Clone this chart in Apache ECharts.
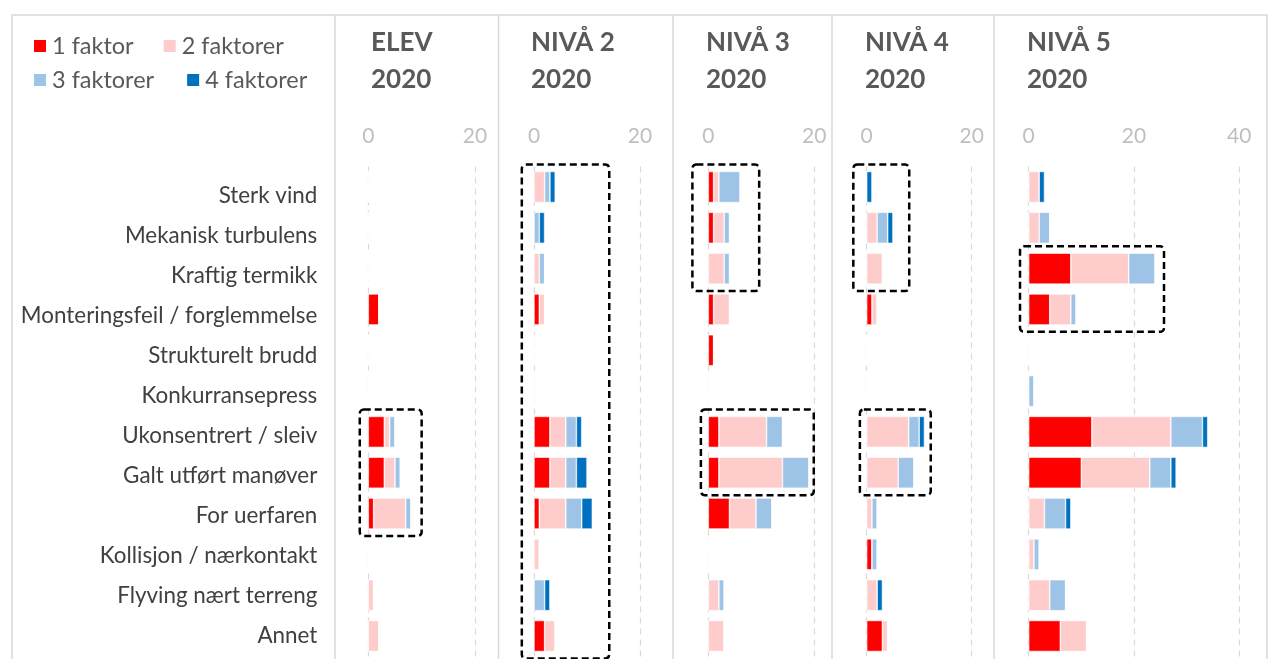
<!DOCTYPE html>
<html>
<head>
<meta charset="utf-8">
<script src="https://cdn.jsdelivr.net/npm/echarts@6/dist/echarts.min.js"></script>
<style>html,body{margin:0;padding:0;background:#fff;}#c{width:1276px;height:659px;}</style>
</head>
<body>
<div id="c"></div>
<script>
const categories = ['Sterk vind','Mekanisk turbulens','Kraftig termikk','Monteringsfeil / forglemmelse','Strukturelt brudd','Konkurransepress','Ukonsentrert / sleiv','Galt utført manøver','For uerfaren','Kollisjon / nærkontakt','Flyving nært terreng','Annet'];
const seriesNames = ['1 faktor','2 faktorer','3 faktorer','4 faktorer'];
const panelTitles = ['ELEV\n2020','NIVÅ 2\n2020','NIVÅ 3\n2020','NIVÅ 4\n2020','NIVÅ 5\n2020'];
const axisMax = [20,20,20,20,40];
const tickInterval = 20;

const elev1 = [0,0,0,2,0,0,3,3,1,0,0,0];
const elev2 = [0,0,0,0,0,0,1,2,6,0,1,2];
const elev3 = [0,0,0,0,0,0,1,1,1,0,0,0];
const elev4 = [0,0,0,0,0,0,0,0,0,0,0,0];

const niva2_1 = [0,0,0,1,0,0,3,3,1,0,0,2];
const niva2_2 = [2,0,1,1,0,0,3,3,5,1,0,2];
const niva2_3 = [1,1,1,0,0,0,2,2,3,0,2,0];
const niva2_4 = [1,1,0,0,0,0,1,2,2,0,1,0];

const niva3_1 = [1,1,0,1,1,0,2,2,4,0,0,0];
const niva3_2 = [1,2,3,3,0,0,9,12,5,0,2,3];
const niva3_3 = [4,1,1,0,0,0,3,5,3,0,1,0];
const niva3_4 = [0,0,0,0,0,0,0,0,0,0,0,0];

const niva4_1 = [0,0,0,1,0,0,0,0,0,1,0,3];
const niva4_2 = [0,2,3,1,0,0,8,6,1,0,2,1];
const niva4_3 = [0,2,0,0,0,0,2,3,1,1,0,0];
const niva4_4 = [1,1,0,0,0,0,1,0,0,0,1,0];

const niva5_1 = [0,0,8,4,0,0,12,10,0,0,0,6];
const niva5_2 = [2,2,11,4,0,0,15,13,3,1,4,5];
const niva5_3 = [0,2,5,1,0,1,6,4,4,1,3,0];
const niva5_4 = [1,0,0,0,0,0,1,1,1,0,0,0];

// highlight boxes: panel, first category, last category, value extent
const boxPanel = [0,1,2,2,3,3,4];
const boxFrom = ['Ukonsentrert / sleiv','Sterk vind','Sterk vind','Ukonsentrert / sleiv','Sterk vind','Ukonsentrert / sleiv','Kraftig termikk'];
const boxTo = ['For uerfaren','Annet','Kraftig termikk','Galt utført manøver','Kraftig termikk','Galt utført manøver','Monteringsfeil / forglemmelse'];
const boxXMin = [-1.6,-2.3,-3.0,-1.4,-2.55,-1.3,-1.65];
const boxXMax = [10.0,14.2,9.6,19.9,8.1,12.2,25.7];

const panels = [
  [elev1,elev2,elev3,elev4],
  [niva2_1,niva2_2,niva2_3,niva2_4],
  [niva3_1,niva3_2,niva3_3,niva3_4],
  [niva4_1,niva4_2,niva4_3,niva4_4],
  [niva5_1,niva5_2,niva5_3,niva5_4]
];

const colors = ['#FF0000','#FFCCCC','#9DC3E6','#0070C0'];
const FONT = 'Lato';
const gridLeft = [368.3,534,708.3,866.7,1028.7];
const gridWidth = [106.7,106,106,105,210.6];
const titleLeft = [371,531,706,865,1027];
const gridTop = 166.6, gridHeight = 489.8;
const separators = [335,498.5,673,832,994];

const chart = echarts.init(document.getElementById('c'), null, {renderer:'canvas'});

const grids = [], xAxes = [], yAxes = [], series = [], titles = [];
for (let p = 0; p < 5; p++) {
  grids.push({left: gridLeft[p], top: gridTop, width: gridWidth[p], height: gridHeight, containLabel: false});
  xAxes.push({
    gridIndex: p, type: 'value', position: 'top', min: 0, max: axisMax[p], interval: tickInterval,
    axisLine: {show: false}, axisTick: {show: false},
    axisLabel: {color: '#bfbfbf', fontSize: 21, fontFamily: FONT, margin: 20},
    splitLine: {show: true, lineStyle: {color: '#d9d9d9', type: [6,5], width: 1.2}}
  });
  yAxes.push({
    gridIndex: p, type: 'category', data: categories, inverse: true,
    axisLine: {show: false}, axisTick: {show: false},
    axisLabel: {show: false},
    splitLine: {show: false}
  });
  titles.push({
    text: panelTitles[p], left: titleLeft[p], top: 24, padding: 0,
    textStyle: {color: '#595959', fontSize: 26, fontWeight: 'bold', fontFamily: FONT, lineHeight: 37}
  });
  for (let s = 0; s < 4; s++) {
    series.push({
      type: 'bar', name: seriesNames[s], xAxisIndex: p, yAxisIndex: p, stack: 'p' + p,
      data: panels[p][s], barWidth: 31, color: colors[s],
      itemStyle: {color: colors[s], borderColor: '#ffffff', borderWidth: 0.6},
      emphasis: {disabled: true}, animation: false
    });
  }
}
// separate label axis (category labels sit on their own slightly different grid)
grids.push({left: 368.3, top: 176, width: 100, height: 480, containLabel: false});
xAxes.push({gridIndex: 5, type: 'value', show: false, min: 0, max: 20});
yAxes.push({
  gridIndex: 5, type: 'category', data: categories, inverse: true,
  axisLine: {show: false}, axisTick: {show: false}, splitLine: {show: false},
  axisLabel: {show: true, color: '#404040', fontSize: 22.4, fontFamily: FONT, margin: 51, align: 'right'}
});

const legendText = {color: '#595959', fontSize: 23.5, fontFamily: FONT};
const option = {
  animation: false,
  backgroundColor: '#ffffff',
  title: titles,
  grid: grids, xAxis: xAxes, yAxis: yAxes, series: series,
  legend: [
    {data: ['1 faktor','2 faktorer'], left: 32, top: 34, padding: 0, itemGap: 28, itemWidth: 14, itemHeight: 14, itemTextGap: 7, icon: 'rect', textStyle: legendText, selectedMode: false},
    {data: ['3 faktorer','4 faktorer'], left: 32, top: 68, padding: 0, itemGap: 31, itemWidth: 14, itemHeight: 14, itemTextGap: 7, icon: 'rect', textStyle: legendText, selectedMode: false}
  ]
};
chart.setOption(option);

const graphics = [];
graphics.push({type: 'rect', silent: true, z: 0, shape: {x: 12, y: 15, width: 1255, height: 700}, style: {fill: null, stroke: '#d9d9d9', lineWidth: 1.5}});
separators.forEach(x => graphics.push({type: 'line', silent: true, z: 0, shape: {x1: x, y1: 15, x2: x, y2: 700}, style: {stroke: '#d9d9d9', lineWidth: 1.5}}));

const bandHalf = gridHeight / categories.length / 2;
for (let b = 0; b < boxPanel.length; b++) {
  const g = boxPanel[b];
  const p1 = chart.convertToPixel({gridIndex: g}, [boxXMin[b], boxFrom[b]]);
  const p2 = chart.convertToPixel({gridIndex: g}, [boxXMax[b], boxTo[b]]);
  const y1 = p1[1] - bandHalf - 2, y2 = p2[1] + bandHalf + 2;
  graphics.push({type: 'rect', silent: true, z: 100,
    shape: {x: p1[0], y: y1, width: p2[0] - p1[0], height: y2 - y1, r: 4},
    style: {fill: null, stroke: '#000000', lineWidth: 2.5, lineDash: [7,4]}});
}
chart.setOption({graphic: graphics});
</script>
</body>
</html>
